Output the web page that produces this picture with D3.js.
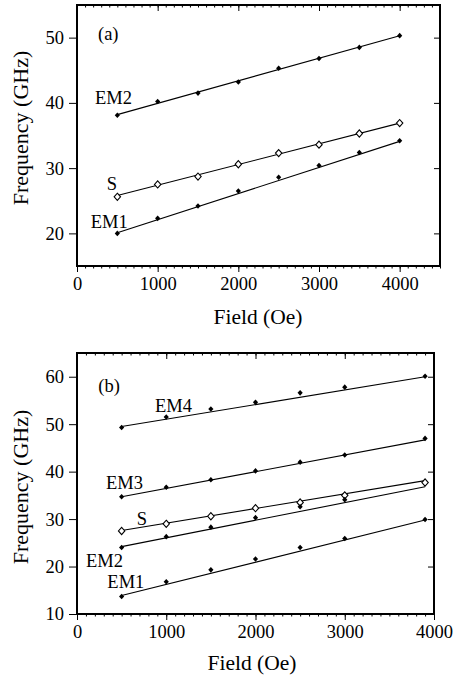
<!DOCTYPE html>
<html>
<head>
<meta charset="utf-8">
<script src="https://cdn.jsdelivr.net/npm/d3@7"></script>
<style>
  html, body { margin: 0; padding: 0; background: #fff; }
  svg { display: block; }
  text { font-family: "Liberation Serif", "Times New Roman", serif; fill: #000; }
</style>
</head>
<body>
<svg id="chart" width="455" height="684"></svg>
<script>
// Magnetic field values (Oe) at which frequencies were measured
const fieldA = [500, 1000, 1500, 2000, 2500, 3000, 3500, 4000];
const fieldB = [500, 1000, 1500, 2000, 2500, 3000, 3900];

// Panel (a) mode frequencies (GHz)
const a_EM2 = [38.1, 40.2, 41.5, 43.2, 45.3, 46.8, 48.5, 50.3];
const a_S   = [25.6, 27.5, 28.7, 30.6, 32.3, 33.6, 35.3, 36.9];
const a_EM1 = [20.0, 22.3, 24.2, 26.5, 28.6, 30.4, 32.4, 34.2];

// Panel (b) mode frequencies (GHz); EM2 measured up to 3000 Oe only
const b_EM4 = [49.3, 51.5, 53.2, 54.6, 56.6, 57.8, 60.1];
const b_EM3 = [34.7, 36.7, 38.3, 40.15, 42.0, 43.5, 47.0];
const b_S   = [27.5, 29.0, 30.6, 32.3, 33.5, 35.0, 37.7];
const b_EM2 = [24.0, 26.3, 28.3, 30.3, 32.6, 34.1];
const b_EM1 = [13.7, 16.8, 19.3, 21.6, 24.0, 25.9, 29.9];

// Field range covered by the fitted lines
const fitRangeA = [500, 4000];
const fitRangeB = [500, 3900];

// Fitted line values (GHz) at the start and end of the fit range
const fitA_EM2 = [38.2, 50.3];
const fitA_S   = [25.8, 36.9];
const fitA_EM1 = [20.1, 34.1];
const fitB_EM4 = [49.5, 60.0];
const fitB_EM3 = [34.7, 46.7];
const fitB_S   = [27.6, 38.1];
const fitB_EM2 = [24.2, 36.8];
const fitB_EM1 = [13.9, 29.8];

// Axis ticks
const xTicksA = [0, 1000, 2000, 3000, 4000];
const yTicksA = [20, 30, 40, 50];
const xTicksB = [0, 1000, 2000, 3000, 4000];
const yTicksB = [10, 20, 30, 40, 50, 60];

const svg = d3.select("#chart");
const FONT = "Liberation Serif";

function panel(cfg) {
  const { x, y, xTicks, yTicks, series, field, fitRange, labels, tag,
          xTitleX, xTitleY, yTitleX, yTitleY } = cfg;
  const g = svg.append("g");
  const [x0, x1] = x.range();
  const [y0, y1] = y.range(); // y0 bottom, y1 top

  const minor = d3.range(x.domain()[0], x.domain()[1] + 1, 100);

  // bottom axis: outward ticks
  g.append("g").attr("transform", `translate(0,${y0})`)
    .call(d3.axisBottom(x).tickValues(minor).tickSize(2.5).tickFormat(""))
    .call(s => s.select(".domain").remove());
  g.append("g").attr("transform", `translate(0,${y0})`)
    .call(d3.axisBottom(x).tickValues(xTicks).tickSize(6).tickPadding(5).tickFormat(d3.format("d")))
    .call(s => s.select(".domain").remove())
    .call(s => s.selectAll("text").attr("font-size", 18.5).attr("fill", "#000").style("font-family", FONT));

  // top axis: inward ticks
  g.append("g").attr("transform", `translate(0,${y1})`)
    .call(d3.axisBottom(x).tickValues(minor).tickSize(2.5).tickFormat(""))
    .call(s => s.select(".domain").remove());
  g.append("g").attr("transform", `translate(0,${y1})`)
    .call(d3.axisBottom(x).tickValues(xTicks).tickSize(6).tickFormat(""))
    .call(s => s.select(".domain").remove());

  // left axis: outward ticks with labels
  g.append("g").attr("transform", `translate(${x0},0)`)
    .call(d3.axisLeft(y).tickValues(yTicks).tickSize(8).tickPadding(5).tickFormat(d3.format("d")))
    .call(s => s.select(".domain").remove())
    .call(s => s.selectAll("text").attr("font-size", 18.5).attr("fill", "#000").style("font-family", FONT));

  // right axis: inward ticks
  g.append("g").attr("transform", `translate(${x1},0)`)
    .call(d3.axisLeft(y).tickValues(yTicks).tickSize(6).tickFormat(""))
    .call(s => s.select(".domain").remove());

  g.selectAll(".tick line").attr("stroke", "#000").attr("stroke-width", 1);

  // frame
  g.append("rect")
    .attr("x", x0).attr("y", y1)
    .attr("width", x1 - x0).attr("height", y0 - y1)
    .attr("fill", "none").attr("stroke", "#000").attr("stroke-width", 2);

  // fitted lines
  series.forEach(sr => {
    g.append("line")
      .attr("x1", x(fitRange[0])).attr("y1", y(sr.fit[0]))
      .attr("x2", x(fitRange[1])).attr("y2", y(sr.fit[1]))
      .attr("stroke", "#000").attr("stroke-width", 1.1);
  });

  // data points
  series.forEach(sr => {
    const pts = sr.values.map((v, i) => [field[i], v]);
    if (sr.open) {
      g.selectAll(null).data(pts).join("path")
        .attr("transform", d => `translate(${x(d[0])},${y(d[1])})`)
        .attr("d", "M0,-3.6L3.2,0L0,3.6L-3.2,0Z")
        .attr("fill", "#fff").attr("stroke", "#000").attr("stroke-width", 1.1);
    } else {
      g.selectAll(null).data(pts).join("path")
        .attr("transform", d => `translate(${x(d[0])},${y(d[1])})`)
        .attr("d", "M0,-2.8L2.6,0L0,2.8L-2.6,0Z")
        .attr("fill", "#000");
    }
  });

  // series labels
  labels.forEach(l => {
    g.append("text").attr("x", x(l.f)).attr("y", y(l.v))
      .attr("font-size", 18.5).text(l.text);
  });

  // panel tag
  g.append("text").attr("x", x(tag.f)).attr("y", y(tag.v))
    .attr("font-size", 18.5).text(tag.text);

  // axis titles
  g.append("text").attr("x", xTitleX).attr("y", xTitleY)
    .attr("text-anchor", "middle").attr("font-size", 21.5).text("Field (Oe)");
  g.append("text")
    .attr("transform", `translate(${yTitleX},${yTitleY}) rotate(-90)`)
    .attr("text-anchor", "middle").attr("font-size", 22).text("Frequency (GHz)");
}

// Panel (a)
panel({
  x: d3.scaleLinear().domain([0, 4500]).range([77, 440]),
  y: d3.scaleLinear().domain([15, 55]).range([266, 5]),
  xTicks: xTicksA, yTicks: yTicksA, field: fieldA, fitRange: fitRangeA,
  series: [
    { values: a_EM2, fit: fitA_EM2 },
    { values: a_S, fit: fitA_S, open: true },
    { values: a_EM1, fit: fitA_EM1 }
  ],
  labels: [
    { text: "EM2", f: 223, v: 39.8 },
    { text: "S",   f: 370, v: 26.6 },
    { text: "EM1", f: 170, v: 20.8 }
  ],
  tag: { text: "(a)", f: 260, v: 49.6 },
  xTitleX: 258, xTitleY: 324, yTitleX: 28, yTitleY: 128
});

// Panel (b)
panel({
  x: d3.scaleLinear().domain([0, 4000]).range([77, 434]),
  y: d3.scaleLinear().domain([10, 65]).range([614, 353]),
  xTicks: xTicksB, yTicks: yTicksB, field: fieldB, fitRange: fitRangeB,
  series: [
    { values: b_EM4, fit: fitB_EM4 },
    { values: b_EM3, fit: fitB_EM3 },
    { values: b_S, fit: fitB_S, open: true },
    { values: b_EM2, fit: fitB_EM2 },
    { values: b_EM1, fit: fitB_EM1 }
  ],
  labels: [
    { text: "EM4", f: 874, v: 52.6 },
    { text: "EM3", f: 325, v: 36.3 },
    { text: "S",   f: 669, v: 28.8 },
    { text: "EM2", f: 101, v: 20.0 },
    { text: "EM1", f: 340, v: 15.4 }
  ],
  tag: { text: "(b)", f: 239, v: 56.85 },
  xTitleX: 252, xTitleY: 670, yTitleX: 28, yTitleY: 487
});
</script>
</body>
</html>
